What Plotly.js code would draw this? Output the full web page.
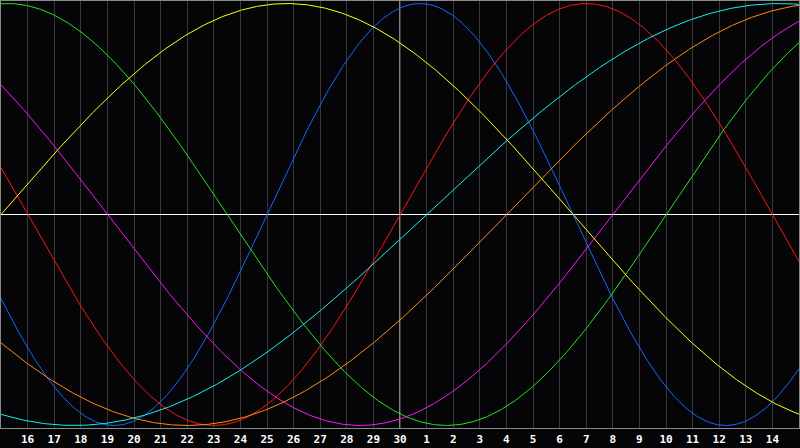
<!DOCTYPE html>
<html>
<head>
<meta charset="utf-8">
<script src="https://cdn.plot.ly/plotly-3.0.1.min.js"></script>
<style>
  html, body { margin: 0; padding: 0; background: #050508; }
  #chart { width: 800px; height: 448px; }
</style>
</head>
<body>
<div id="chart"></div>
<script>
// Day labels along the bottom (positions 1..29 of a 30-day window)
const dayLabels = ['16','17','18','19','20','21','22','23','24','25','26','27','28','29','30',
                   '1','2','3','4','5','6','7','8','9','10','11','12','13','14'];
const todayIndex = 15; // the "30" day, marked by the white vertical line

// Biorhythm cycles
const cycleNames   = ['Physical','Emotional','Intellectual','Intuitive','Aesthetic','Awareness','Spiritual'];
const cyclePeriods = [23, 28, 33, 38, 43, 48, 53];
// day index (0..30) where each curve crosses the midline going up
const cycleUpCross = [10, 15, 25, 23, 0, 19, 16];
const cycleColors  = ['#1468ff', '#ff1414', '#1ee61e', '#ff14ff', '#ffff14', '#ff8a14', '#14f0f0'];

const daySpan = 30;
const step = 0.05;

const traces = cycleNames.map((name, i) => {
  const xs = [], ys = [];
  for (let k = 0; k <= daySpan / step; k++) {
    const x = k * step;
    xs.push(x);
    ys.push(Math.sin(2 * Math.PI * (x - cycleUpCross[i]) / cyclePeriods[i]));
  }
  return {
    x: xs, y: ys, type: 'scatter', mode: 'lines', name: name,
    line: { color: cycleColors[i], width: 1, shape: 'linear' },
    hoverinfo: 'skip'
  };
});

const tickVals = dayLabels.map((_, i) => i + 1);

const layout = {
  width: 800, height: 448,
  margin: { l: 1, r: 1, t: 1, b: 20, pad: 0 },
  paper_bgcolor: '#050508',
  plot_bgcolor: '#050508',
  showlegend: false,
  xaxis: {
    range: [0, daySpan],
    tickvals: tickVals, ticktext: dayLabels,
    showgrid: true, gridcolor: '#383838', gridwidth: 1,
    zeroline: false,
    showline: true, mirror: true, linecolor: '#8a8a8a', linewidth: 1,
    ticks: 'outside', ticklen: 1, tickcolor: 'rgba(0,0,0,0)',
    tickfont: { family: 'DejaVu Sans Mono', size: 11, color: '#ffffff', weight: 700 },
    fixedrange: true
  },
  yaxis: {
    range: [-1.012, 1.012],
    showgrid: false,
    zeroline: true, zerolinecolor: '#ffffff', zerolinewidth: 1,
    showline: true, mirror: true, linecolor: '#8a8a8a', linewidth: 1,
    showticklabels: false, ticks: '',
    fixedrange: true
  },
  shapes: [{
    type: 'line', xref: 'x', yref: 'paper',
    x0: todayIndex, x1: todayIndex, y0: 0, y1: 1,
    line: { color: '#ffffff', width: 1 },
    layer: 'between'
  }]
};

Plotly.newPlot('chart', traces, layout, { displayModeBar: false, staticPlot: true });
</script>
</body>
</html>
